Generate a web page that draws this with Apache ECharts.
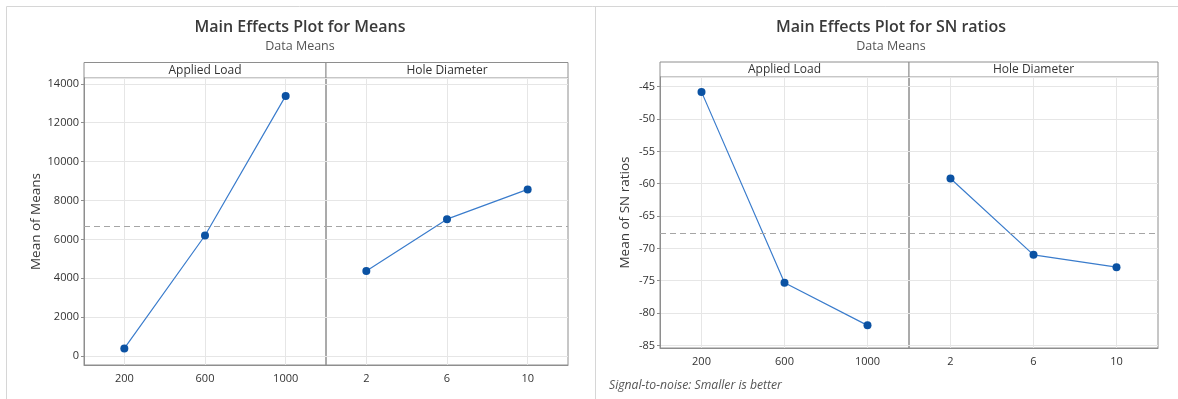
<!DOCTYPE html>
<html>
<head>
<meta charset="utf-8">
<script src="https://cdn.jsdelivr.net/npm/echarts@6/dist/echarts.min.js"></script>
<style>
  html, body { margin: 0; padding: 0; background: #fff; }
  #chart { width: 1178px; height: 399px; }
</style>
</head>
<body>
<div id="chart"></div>
<script>
// Factor levels
const loadLevels = ['200', '600', '1000'];
const diameterLevels = ['2', '6', '10'];
const factorNames = ['Applied Load', 'Hole Diameter'];

// Mean of means for each factor level
const meansByLoad = [390, 6200, 13380];
const meansByDiameter = [4380, 7040, 8570];

// Mean of SN ratios for each factor level (smaller is better)
const snByLoad = [-45.8, -75.3, -81.9];
const snByDiameter = [-59.2, -71.0, -72.9];

const FONT = '"Open Sans", "Noto Sans", sans-serif';
const FRAME = '#8e8e8e';
const GRIDLINE = '#e6e6e6';

function avg(arr) { return arr.reduce((s, v) => s + v, 0) / arr.length; }

// Layout of the two main-effects plots
const plots = [
  {
    title: 'Main Effects Plot for Means',
    yName: 'Mean of Means',
    centerX: 300,
    left: 84, top: 78, panelW: 242, height: 287,
    stripTop: 62.5,
    min: -460, max: 14300, splitNumber: 7,
    nameGap: 40,
    data: [meansByLoad, meansByDiameter]
  },
  {
    title: 'Main Effects Plot for SN ratios',
    yName: 'Mean of SN ratios',
    centerX: 891,
    left: 660, top: 77, panelW: 249, height: 271,
    stripTop: 62,
    min: -85.4, max: -43.5, splitNumber: 8,
    nameGap: 28,
    data: [snByLoad, snByDiameter]
  }
];
const levels = [loadLevels, diameterLevels];

const grid = [], xAxis = [], yAxis = [], series = [], graphic = [];

// Outer panel frames
graphic.push({
  type: 'rect', silent: true,
  shape: { x: 6.5, y: 6.5, width: 1210, height: 420 },
  style: { fill: null, stroke: '#d6d6d6', lineWidth: 1 }
});
graphic.push({
  type: 'line', silent: true,
  shape: { x1: 595.5, y1: 6.5, x2: 595.5, y2: 399 },
  style: { stroke: '#d6d6d6', lineWidth: 1 }
});

plots.forEach((p, pi) => {
  const grand = avg(p.data[0].concat(p.data[1]));

  graphic.push({
    type: 'text', silent: true,
    style: { text: p.title, x: p.centerX, y: 27, textAlign: 'center', textVerticalAlign: 'middle',
             font: '600 16px ' + FONT, fill: '#3a3a3a' }
  });
  graphic.push({
    type: 'text', silent: true,
    style: { text: 'Data Means', x: p.centerX, y: 46, textAlign: 'center', textVerticalAlign: 'middle',
             font: '12.5px ' + FONT, fill: '#555' }
  });

  for (let f = 0; f < 2; f++) {
    const idx = grid.length;
    const left = p.left + f * p.panelW;
    const first = f === 0;

    grid.push({ left: left, top: p.top, width: p.panelW, height: p.height,
                show: true, borderColor: FRAME, borderWidth: 1, backgroundColor: 'transparent' });

    // Factor strip above each panel
    graphic.push({
      type: 'rect', silent: true,
      shape: { x: left, y: p.stripTop, width: p.panelW, height: p.top - p.stripTop },
      style: { fill: '#fff', stroke: FRAME, lineWidth: 1 }
    });
    graphic.push({
      type: 'text', silent: true,
      style: { text: factorNames[f], x: left + p.panelW / 2, y: (p.stripTop + p.top) / 2 + 0.5,
               textAlign: 'center', textVerticalAlign: 'middle', font: '12px ' + FONT, fill: '#333' }
    });

    xAxis.push({
      type: 'category', gridIndex: idx, data: levels[f], boundaryGap: true,
      axisLine: { show: true, onZero: false, lineStyle: { color: FRAME } },
      axisTick: { show: false, alignWithLabel: true },
      axisLabel: { color: '#333', fontSize: 11, fontFamily: FONT, margin: 8 },
      splitLine: { show: true, alignWithLabel: true, lineStyle: { color: GRIDLINE } }
    });

    yAxis.push({
      type: 'value', gridIndex: idx, min: p.min, max: p.max, splitNumber: p.splitNumber,
      axisLine: { show: first, lineStyle: { color: FRAME } },
      axisTick: { show: first, length: 3, lineStyle: { color: FRAME } },
      axisLabel: { show: first, showMinLabel: false, showMaxLabel: false, color: '#333',
                   fontSize: 11, fontFamily: FONT, margin: 5, formatter: v => String(v) },
      splitLine: { show: true, lineStyle: { color: GRIDLINE } },
      name: first ? p.yName : '', nameLocation: 'middle', nameGap: p.nameGap,
      nameTextStyle: { fontSize: 13.5, fontFamily: FONT, color: '#3a3a3a' }
    });

    series.push({
      type: 'line', xAxisIndex: idx, yAxisIndex: idx, data: p.data[f],
      symbol: 'circle', symbolSize: 8,
      itemStyle: { color: '#0b52a3' },
      lineStyle: { color: '#3a7ccc', width: 1.2 },
      markLine: {
        silent: true, symbol: 'none', label: { show: false },
        lineStyle: { color: '#a5a5a5', type: [6, 4], width: 1 },
        data: [{ yAxis: grand }]
      },
      z: 3
    });
  }
});

// Footnote for the SN ratio plot
graphic.push({
  type: 'text', silent: true,
  style: { text: 'Signal-to-noise: Smaller is better', x: 609, y: 386, textVerticalAlign: 'middle',
           font: 'italic 12.2px ' + FONT, fill: '#555' }
});

const chart = echarts.init(document.getElementById('chart'), null, { renderer: 'canvas' });
chart.setOption({
  animation: false,
  backgroundColor: '#fff',
  grid, xAxis, yAxis, series, graphic
});
</script>
</body>
</html>
